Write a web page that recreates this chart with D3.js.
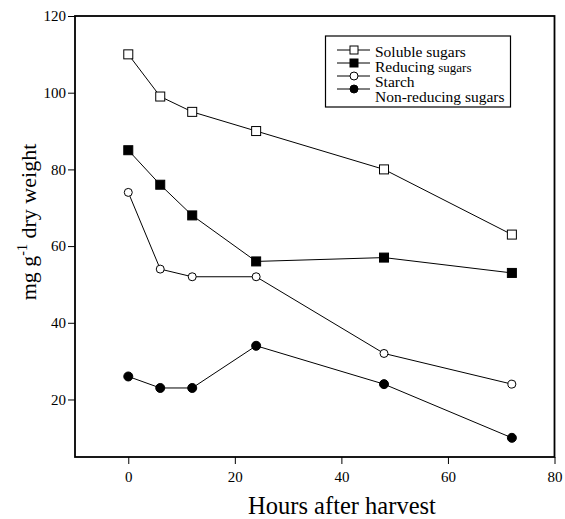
<!DOCTYPE html>
<html>
<head>
<meta charset="utf-8">
<script src="https://cdn.jsdelivr.net/npm/d3@7"></script>
<style>
  body { margin: 0; background: #fff; }
  text { font-family: "Liberation Serif", "Times New Roman", serif; fill: #000; }
</style>
</head>
<body>
<div id="chart"></div>
<script>
// hours after harvest
const hours = [0, 6, 12, 24, 48, 72];
const soluble = [110, 99, 95, 90, 80, 63];
const reducing = [85, 76, 68, 56, 57, 53];
const starch = [74, 54, 52, 52, 32, 24];
const nonReducing = [26, 23, 23, 34, 24, 10];
const xTicks = [0, 20, 40, 60, 80];
const yTicks = [20, 40, 60, 80, 100, 120];

const series = [
    { name: "Soluble sugars", values: soluble, shape: "square", fill: "#fff" },
    { name: "Reducing sugars", values: reducing, shape: "square", fill: "#000" },
    { name: "Starch", values: starch, shape: "circle", fill: "#fff" },
    { name: "Non-reducing sugars", values: nonReducing, shape: "circle", fill: "#000" }
];

const width = 565, height = 519;
const plotLeft = 75, plotRight = 554.5, plotTop = 16, plotBottom = 457;

const svg = d3.select("#chart").append("svg")
    .attr("width", width)
    .attr("height", height);

const x = d3.scaleLinear().domain([-10, 80]).range([plotLeft, plotRight]);
const y = d3.scaleLinear().domain([5, 120]).range([plotBottom, plotTop]);

// frame
svg.append("rect")
    .attr("x", plotLeft)
    .attr("y", plotTop)
    .attr("width", plotRight - plotLeft)
    .attr("height", plotBottom - plotTop)
    .attr("fill", "none")
    .attr("stroke", "#000")
    .attr("stroke-width", 1.8);

const xAxis = svg.append("g")
    .attr("transform", `translate(0,${plotBottom})`)
    .call(d3.axisBottom(x).tickValues(xTicks).tickSize(7).tickPadding(7));
const yAxis = svg.append("g")
    .attr("transform", `translate(${plotLeft},0)`)
    .call(d3.axisLeft(y).tickValues(yTicks).tickSize(7).tickPadding(2));

[xAxis, yAxis].forEach(ax => {
    ax.attr("font-family", "Liberation Serif, serif").attr("font-size", 15);
    ax.select(".domain").remove();
    ax.selectAll("line").attr("stroke", "#000").attr("stroke-width", 1);
    ax.selectAll("text").attr("fill", "#000");
});

const line = d3.line()
    .x((d, i) => x(hours[i]))
    .y(d => y(d));

function drawMarker(g, shape, fill, cx, cy) {
    if (shape === "square") {
        g.append("rect")
            .attr("x", cx - 4.5).attr("y", cy - 4.5)
            .attr("width", 9).attr("height", 9)
            .attr("fill", fill).attr("stroke", "#000").attr("stroke-width", 1);
    } else {
        g.append("circle")
            .attr("cx", cx).attr("cy", cy).attr("r", fill === "#000" ? 4.5 : 4)
            .attr("fill", fill).attr("stroke", "#000").attr("stroke-width", 1);
    }
}

series.forEach(s => {
    svg.append("path")
        .datum(s.values)
        .attr("d", line)
        .attr("fill", "none")
        .attr("stroke", "#000")
        .attr("stroke-width", 1);
    const g = svg.append("g");
    s.values.forEach((v, i) => drawMarker(g, s.shape, s.fill, x(hours[i]), y(v)));
});

// legend
const legend = svg.append("g");
legend.append("rect")
    .attr("x", 325.5).attr("y", 36)
    .attr("width", 185).attr("height", 71)
    .attr("fill", "#fff").attr("stroke", "#000").attr("stroke-width", 1.2);

series.forEach((s, i) => {
    const ly = 50 + i * 13;
    legend.append("line")
        .attr("x1", 337).attr("x2", 370)
        .attr("y1", ly).attr("y2", ly)
        .attr("stroke", "#000").attr("stroke-width", 1);
    const g = legend.append("g");
    if (s.shape === "square") {
        g.append("rect")
            .attr("x", 350).attr("y", ly - 4)
            .attr("width", 8).attr("height", 8)
            .attr("fill", s.fill).attr("stroke", "#000");
    } else {
        g.append("circle")
            .attr("cx", 354).attr("cy", ly).attr("r", 4)
            .attr("fill", s.fill).attr("stroke", "#000");
    }
    const t = legend.append("text")
        .attr("x", 375).attr("y", 56.5 + i * 15)
        .style("font-size", "15.5px");
    if (s.name === "Reducing sugars") {
        t.append("tspan").text("Reducing ");
        t.append("tspan").style("font-size", "13px").text("sugars");
    } else {
        t.text(s.name);
    }
});

// axis titles
svg.append("text")
    .attr("x", 342).attr("y", 514)
    .attr("text-anchor", "middle")
    .style("font-size", "24.5px")
    .text("Hours after harvest");

const yl = svg.append("text")
    .attr("transform", "translate(36,222) rotate(-90)")
    .attr("text-anchor", "middle")
    .style("font-size", "22px");
yl.append("tspan").text("mg g");
yl.append("tspan").attr("dy", -9).style("font-size", "14px").text("-1");
yl.append("tspan").attr("dy", 9).text(" dry weight");
</script>
</body>
</html>
